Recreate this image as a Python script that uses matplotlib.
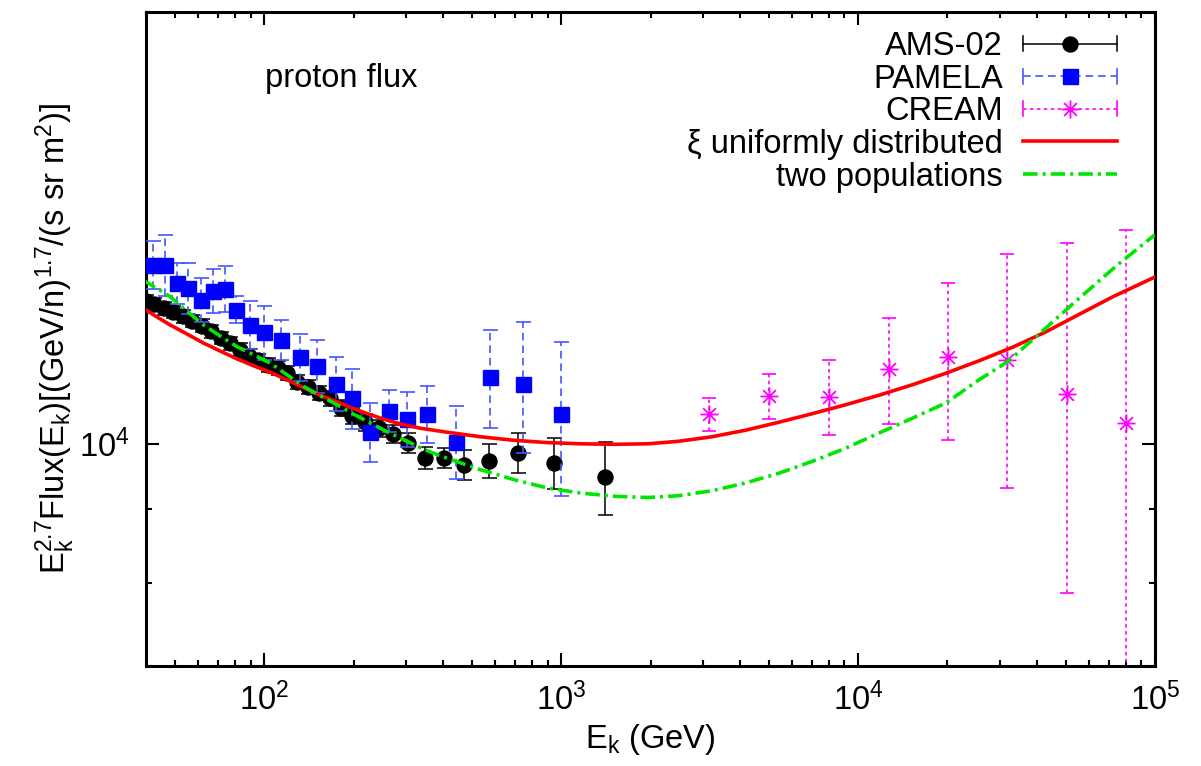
import numpy as np
import matplotlib
matplotlib.use("Agg")
import matplotlib.pyplot as plt
from matplotlib.lines import Line2D
from matplotlib.path import Path
from matplotlib.legend_handler import HandlerBase
from matplotlib.ticker import LogLocator, FixedLocator, NullFormatter

plt.rcParams["font.family"] = ["Liberation Sans", "DejaVu Sans"]
plt.rcParams["mathtext.fontset"] = "custom"
plt.rcParams["mathtext.rm"] = "Liberation Sans"
plt.rcParams["mathtext.it"] = "Liberation Sans:italic"
plt.rcParams["mathtext.bf"] = "Liberation Sans:bold"
plt.rcParams["lines.scale_dashes"] = False

FS = 23.5

# ---- AMS-02 proton flux (E_k in GeV, E^2.7 * flux) ----
ams_e = [40.0, 42.5, 45.9, 49.4, 53.2, 57.3, 61.6, 66.3, 71.4, 76.8, 82.6,
         88.8, 95.6, 103, 111, 119.5, 129, 140, 153, 166, 181, 198, 219,
         243, 272, 306, 349, 402, 472, 573, 714, 950, 1402]
ams_f = [12580, 12510, 12430, 12360, 12270, 12180, 12090, 11980, 11850,
         11750, 11630, 11520, 11440, 11350, 11290, 11200, 11050, 10960,
         10850, 10760, 10590, 10460, 10350, 10255, 10160, 10020, 9773,
         9773, 9669, 9731, 9861, 9695, 9474]
ams_err = [125, 125, 124, 124, 123, 122, 121, 120, 119, 118, 117, 116, 115,
           125, 125, 125, 125, 125, 130, 130, 130, 135, 135, 140, 150, 160,
           170, 160, 230, 265, 320, 400, 560]

# ---- PAMELA ----
pam_e = [42.1, 46.3, 50.7, 55.5, 61.1, 67.1, 73.9, 80.4, 89.3, 99.6, 114.1,
         131.7, 151, 174.2, 198.3, 228, 263, 302, 354.6, 442, 575.6, 744, 1000]
pam_f = [13331, 13331, 12945, 12842, 12603, 12786, 12827, 12400, 12105,
         11965, 11816, 11494, 11335, 11013, 10761, 10190, 10544, 10410,
         10494, 10037, 11132, 11006, 10489]
pam_err = [507, 658, 422, 525, 452, 459, 467, 269, 463, 516, 373, 438, 481,
           474, 513, 480, 350, 461, 481, 590, 880, 1160, 1295]

# ---- CREAM ----
cream_e = [3148, 5000, 7961, 12670, 20140, 31860, 50580, 80170]
cream_f = [10489, 10801, 10788, 11279, 11499, 11444, 10831, 10338]
cream_err = [280, 392, 643, 954, 1445, 2126, 2964, 3756]

# ---- model: xi uniformly distributed ----
uni_e = [38.93, 43.4, 48.13, 54.8, 62.43, 70.85, 80.9, 92.1, 104.8, 119.3,
         135.9, 154.6, 176.1, 200.5, 228.1, 259.7, 295.8, 336.5, 414.2, 536.7,
         696, 901.8, 1168, 1515, 1963, 2480, 3212, 4165, 5397, 6993, 9067,
         11748, 15220, 19743, 25570, 33140, 42970, 55670, 72140, 100000]
uni_f = [12442, 12263, 12105, 11932, 11756, 11610, 11462, 11335, 11217, 11083,
         10941, 10810, 10698, 10578, 10477, 10385, 10310, 10252, 10187, 10113,
         10056, 10019, 10000, 9992, 10000, 10040, 10113, 10219, 10351, 10494,
         10646, 10810, 10993, 11199, 11426, 11676, 11971, 12313, 12663, 13070]

# ---- model: two populations ----
two_e = [38.93, 43.4, 48.13, 54.8, 62.43, 70.85, 80.9, 92.1, 104.8, 119.3,
         135.9, 154.6, 176.1, 200.5, 228.1, 259.7, 295.8, 336.5, 383.1, 447.7,
         536.7, 696, 901.8, 1168, 1515, 1963, 2480, 3212, 4165, 5397, 6993,
         9067, 11748, 15220, 19743, 25570, 31870, 39750, 55670, 74240, 100000]
two_f = [13013, 12838, 12669, 12379, 12105, 11894, 11690, 11537, 11384, 11172,
         10963, 10801, 10646, 10485, 10338, 10195, 10064, 9936, 9825, 9715,
         9591, 9439, 9314, 9239, 9192, 9174, 9200, 9273, 9389, 9537, 9720,
         9928, 10173, 10418, 10676, 11083, 11407, 11875, 12637, 13310, 13989]

labels = ["AMS-02", "PAMELA", "CREAM", "\u03be uniformly distributed",
          "two populations"]

# eight-armed asterisk marker
asterisk = Path([(0, -1), (0, 1), (-1, 0), (1, 0),
                 (-0.707, -0.707), (0.707, 0.707), (-0.707, 0.707), (0.707, -0.707)],
                [Path.MOVETO, Path.LINETO] * 4)

C_BLUE = "#0000ff"
C_BLUE_BAR = "#4455ff"
C_MAG = "#ff00ff"
C_RED = "#ff0000"
C_GREEN = "#00e600"

fig = plt.figure(figsize=(12.01, 7.66), dpi=100)
ax = fig.add_axes([146 / 1201, 1 - 666 / 766, (1155 - 146) / 1201, (666 - 12) / 766])
ax.set_xscale("log")
ax.set_yscale("log")

eb_ams = ax.errorbar(ams_e, ams_f, yerr=ams_err, fmt="o", color="black",
                     ms=10.8, elinewidth=1.1, capsize=5.4, capthick=1.1, zorder=3)

eb_pam = ax.errorbar(pam_e, pam_f, yerr=pam_err, fmt="s", color=C_BLUE,
                     ecolor=C_BLUE_BAR, ms=10.8, elinewidth=1.2, capsize=5.4,
                     capthick=1.2, zorder=4)
eb_pam[2][0].set_linestyle((0, (5.5, 3.5)))

eb_cr = ax.errorbar(cream_e, cream_f, yerr=cream_err, fmt="none", ecolor=C_MAG,
                    elinewidth=1.2, capsize=5.0, capthick=1.2, zorder=4)
eb_cr[2][0].set_linestyle((0, (2.5, 2.5)))
ax.plot(cream_e, cream_f, ls="none", marker=asterisk, ms=13, mec=C_MAG,
        mfc="none", mew=1.3, zorder=5)

ln_uni, = ax.plot(uni_e, uni_f, color=C_RED, lw=2.6, zorder=6)
ln_two, = ax.plot(two_e, two_f, color=C_GREEN, lw=2.6, zorder=7,
                  dashes=(10.5, 3.6, 2.2, 3.6))

ax.set_xlim(40, 1e5)
ax.set_ylim(7000, 20000)

ax.xaxis.set_major_locator(LogLocator(base=10))
ax.xaxis.set_minor_locator(LogLocator(base=10, subs=np.arange(2, 10)))
ax.xaxis.set_minor_formatter(NullFormatter())
ax.yaxis.set_major_locator(FixedLocator([1e4]))
ax.yaxis.set_minor_locator(FixedLocator([7000, 8000, 9000, 20000]))
ax.yaxis.set_minor_formatter(NullFormatter())

ax.tick_params(which="both", direction="in", top=True, right=True,
               width=1.5, labelsize=FS)
ax.tick_params(which="major", length=9.4)
ax.tick_params(which="minor", length=4.5)
ax.tick_params(axis="x", which="major", pad=12)
ax.tick_params(axis="y", which="major", pad=12)
for s in ax.spines.values():
    s.set_linewidth(2.2)

ax.set_xlabel(r"E$_\mathrm{k}$ (GeV)", fontsize=FS)
ax.xaxis.set_label_coords(0.5, -0.085)
ax.set_ylabel(r"E$_\mathrm{k}^{2.7}$Flux(E$_\mathrm{k}$)[(GeV/n)$^{1.7}$/(s sr m$^2$)]",
              fontsize=FS)
ax.yaxis.set_label_coords(-0.068, 0.5)

ax.text(0.118, 0.899, "proton flux", transform=ax.transAxes, fontsize=FS,
        ha="left", va="center")


class ErrKey(HandlerBase):
    """Key sample: horizontal bar with end caps and a centred marker."""

    def __init__(self, color, dashes, marker, ms, mfc, mec, mew, lw=1.1):
        super().__init__()
        self.color = color
        self.dashes = dashes
        self.marker = marker
        self.ms = ms
        self.mfc = mfc
        self.mec = mec
        self.mew = mew
        self.lw = lw

    def create_artists(self, legend, orig_handle, xdescent, ydescent,
                       width, height, fontsize, trans):
        y = (height - ydescent) / 2
        x0, x1 = -xdescent, width - xdescent
        cap = 5.4
        arts = []
        bar = Line2D([x0, x1], [y, y], color=self.color, lw=self.lw)
        if self.dashes is not None:
            bar.set_dashes(self.dashes)
        arts.append(bar)
        for xc in (x0, x1):
            arts.append(Line2D([xc, xc], [y - cap, y + cap], color=self.color,
                               lw=self.lw))
        arts.append(Line2D([(x0 + x1) / 2], [y], ls="none", marker=self.marker,
                           ms=self.ms, mfc=self.mfc, mec=self.mec, mew=self.mew))
        for a in arts:
            a.set_transform(trans)
        return arts


hmap = {
    eb_ams: ErrKey("black", None, "o", 10.8, "black", "black", 1.0),
    eb_pam: ErrKey(C_BLUE_BAR, (5.5, 3.5), "s", 10.8, C_BLUE, C_BLUE, 1.0, lw=1.2),
    eb_cr: ErrKey(C_MAG, (2.5, 2.5), asterisk, 13, "none", C_MAG, 1.3, lw=1.2),
}

fs_px = FS * 100 / 72
leg = ax.legend([eb_ams, eb_pam, eb_cr, ln_uni, ln_two], labels,
                handler_map=hmap, loc="upper right",
                bbox_to_anchor=(1117 / 1201, 1 - 31 / 766),
                bbox_transform=fig.transFigure, frameon=False,
                markerfirst=False, fontsize=FS, handlelength=94 / fs_px,
                handletextpad=20 / fs_px, borderpad=0, borderaxespad=0,
                labelspacing=0.05, handleheight=0.7)

fig.savefig("out.png", dpi=100)
